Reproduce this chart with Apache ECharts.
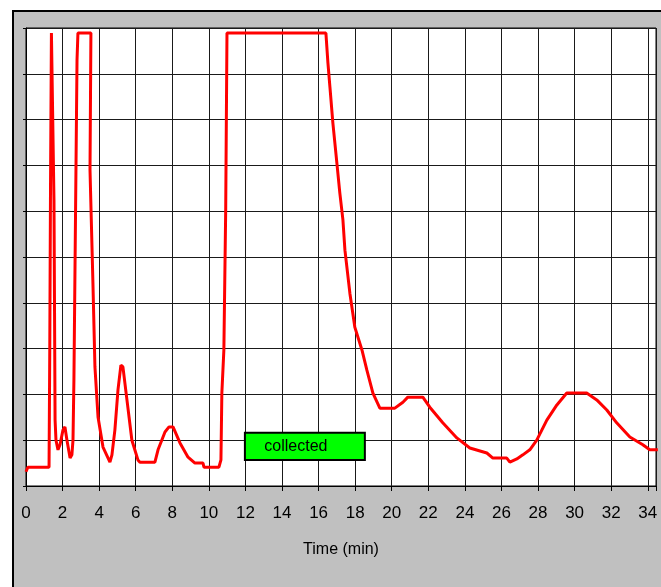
<!DOCTYPE html>
<html>
<head>
<meta charset="utf-8">
<script src="https://cdn.jsdelivr.net/npm/echarts@6/dist/echarts.min.js"></script>
<style>
html,body{margin:0;padding:0;background:#fff;width:661px;height:587px;overflow:hidden;}
#frame{position:absolute;left:12px;top:10px;width:700px;height:620px;background:#c0c0c0;border-left:2px solid #000;border-top:2px solid #000;box-sizing:border-box;}
#chart{position:absolute;left:0;top:0;width:661px;height:587px;}
</style>
</head>
<body>
<div id="frame"></div>
<div id="chart"></div>
<script>
// Time (min)
const times = [0,0.1,1.26,1.3,1.34,1.39,1.48,1.53,1.59,1.64,1.75,1.86,2.02,2.13,2.24,2.41,2.51,2.57,2.62,2.79,2.84,3.55,3.5,3.66,3.77,3.94,4.21,4.59,4.7,4.86,5.03,5.19,5.3,5.52,5.79,6.12,6.23,7.05,7.22,7.6,7.82,8.04,8.42,8.86,9.24,9.68,9.73,10.55,10.66,10.71,10.82,10.92,10.99,16.4,16.51,16.62,16.78,17.0,17.16,17.33,17.44,17.71,17.98,18.37,18.64,18.97,19.35,20.17,20.61,20.88,21.7,22.08,22.79,23.56,24.27,25.2,25.53,26.29,26.46,26.84,27.17,27.55,27.93,28.48,29.03,29.57,30.66,31.21,31.76,32.3,33.02,33.73,34.11,34.55];
// Detector signal (arbitrary units, 0-10 grid)
const signal = [0.31,0.41,0.41,3.0,6.5,9.89,9.89,6.24,1.44,1.0,0.79,0.9,1.22,1.29,1.0,0.61,0.68,1.0,2.31,9.3,9.89,9.89,6.9,4.43,2.6,1.5,0.85,0.52,0.68,1.22,2.1,2.64,2.6,1.88,1.0,0.57,0.52,0.52,0.79,1.18,1.29,1.29,0.94,0.63,0.5,0.5,0.41,0.41,0.57,2.03,2.97,6.03,9.89,9.89,9.24,8.71,7.93,7.05,6.4,5.81,5.15,4.21,3.47,2.97,2.53,2.03,1.7,1.7,1.83,1.94,1.94,1.72,1.38,1.05,0.83,0.72,0.61,0.61,0.52,0.59,0.68,0.79,1.0,1.44,1.77,2.03,2.03,1.88,1.66,1.38,1.07,0.9,0.79,0.79];
// x-axis tick labels
const xTicks = [0,2,4,6,8,10,12,14,16,18,20,22,24,26,28,30,32,34];
// "collected" fraction window [start, end] in minutes and box height in signal units
const collectedLabel = 'collected';
const collectedRange = [11.97, 18.53];
const collectedBand = [0.57, 1.16];

const chart = echarts.init(document.getElementById('chart'), null, {renderer:'canvas'});
const pts = times.map((t,i)=>[t, signal[i]]);
chart.setOption({
  backgroundColor:'transparent',
  animation:false,
  grid:{left:26, top:28, right:5, bottom:101, show:true, backgroundColor:'#ffffff', borderColor:'#000', borderWidth:1},
  xAxis:{
    type:'value', min:0, max:34.45, interval:2,
    name:'Time (min)', nameLocation:'middle', nameGap:56,
    nameTextStyle:{fontFamily:'Liberation Sans Narrow, Liberation Sans, Arial', fontSize:16, color:'#000'},
    axisLine:{show:true, lineStyle:{color:'#000', width:1}},
    axisTick:{show:true, length:5, lineStyle:{color:'#000'}},
    axisLabel:{fontFamily:'Liberation Sans Narrow, Liberation Sans, Arial', fontSize:17, color:'#000', margin:19,
      formatter:v=> xTicks.includes(v) ? String(v) : ''},
    splitLine:{show:true, lineStyle:{color:'#1a1a1a', width:1}}
  },
  yAxis:{
    type:'value', min:0, max:10, interval:1,
    axisLine:{show:true, lineStyle:{color:'#000', width:1}},
    axisTick:{show:true, inside:false, length:3, lineStyle:{color:'#000'}},
    axisLabel:{show:false},
    splitLine:{show:true, lineStyle:{color:'#1a1a1a', width:1}}
  },
  series:[{
    type:'line', data:pts, showSymbol:false, symbol:'none',
    lineStyle:{color:'#ff0000', width:3},
    z:5,
    markArea:{
      silent:true,
      itemStyle:{color:'#00ff00', borderColor:'#000', borderWidth:2, opacity:1},
      label:{show:true, position:'inside', color:'#000', fontFamily:'Liberation Sans, Arial', fontSize:16, offset:[-9,0]},
      data:[[{name:collectedLabel, xAxis:collectedRange[0], yAxis:collectedBand[0]},{xAxis:collectedRange[1], yAxis:collectedBand[1]}]]
    }
  }]
});
</script>
</body>
</html>
